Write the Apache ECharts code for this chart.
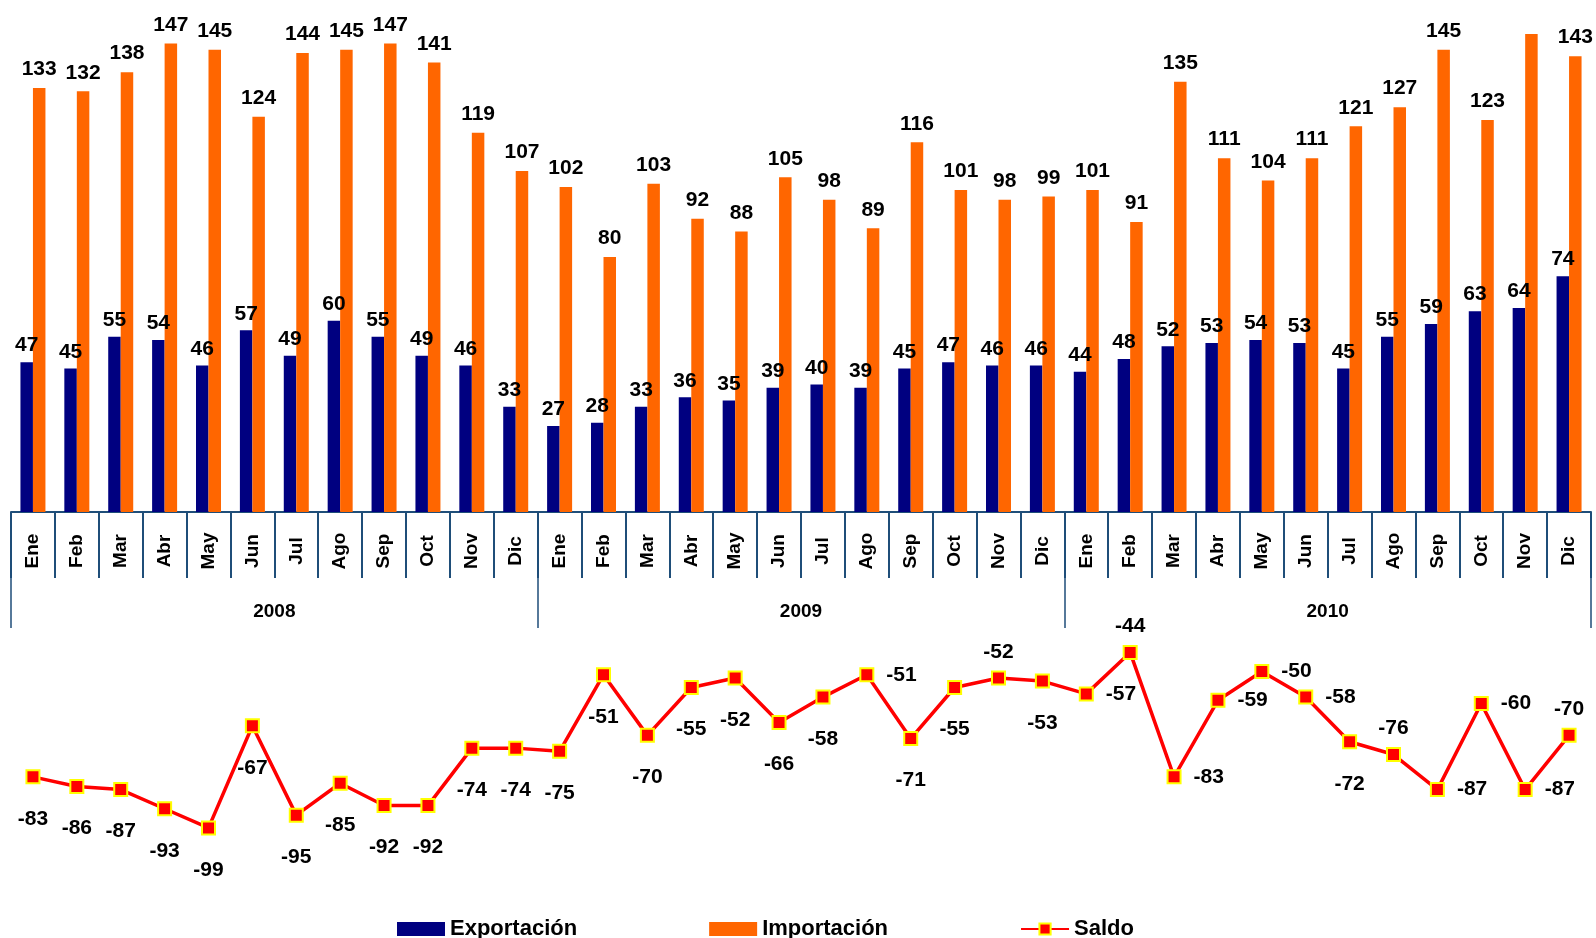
<!DOCTYPE html>
<html>
<head>
<meta charset="utf-8">
<title>Exportación / Importación / Saldo</title>
<script src="https://cdn.jsdelivr.net/npm/echarts@6/dist/echarts.min.js"></script>
<style>
  html, body { margin: 0; padding: 0; background: #fff; }
  #chart { width: 1596px; height: 938px; }
</style>
</head>
<body>
<div id="chart"></div>
<script>
// month labels, three years in a row
const months = ["Ene", "Feb", "Mar", "Abr", "May", "Jun", "Jul", "Ago", "Sep", "Oct", "Nov", "Dic",
  "Ene", "Feb", "Mar", "Abr", "May", "Jun", "Jul", "Ago", "Sep", "Oct", "Nov", "Dic",
  "Ene", "Feb", "Mar", "Abr", "May", "Jun", "Jul", "Ago", "Sep", "Oct", "Nov", "Dic"];
const years = ["2008", "2009", "2010"];

const exportacion = [47, 45, 55, 54, 46, 57, 49, 60, 55, 49, 46, 33,
  27, 28, 33, 36, 35, 39, 40, 39, 45, 47, 46, 46,
  44, 48, 52, 53, 54, 53, 45, 55, 59, 63, 64, 74];
const importacion = [133, 132, 138, 147, 145, 124, 144, 145, 147, 141, 119, 107,
  102, 80, 103, 92, 88, 105, 98, 89, 116, 101, 98, 99,
  101, 91, 135, 111, 104, 111, 121, 127, 145, 123, 150, 143];
const saldo = [-83, -86, -87, -93, -99, -67, -95, -85, -92, -92, -74, -74,
  -75, -51, -70, -55, -52, -66, -58, -51, -71, -55, -52, -53,
  -57, -44, -83, -59, -50, -58, -72, -76, -87, -60, -87, -70];

// where each saldo label sits relative to its marker (style only)
const saldoLabelPos = [
  "bottom", "bottom", "bottom", "bottom", "bottom", "bottom", "bottom", "bottom", "bottom", "bottom", "bottom", "bottom",
  "bottom", "bottom", "bottom", "bottom", "bottom", "bottom", "bottom", "right", "bottom", "bottom", "top", "bottom",
  "right", "top", "right", "right", "right", "right", "bottom", "top", "right", "right", "right", "top"];
const saldoLabelDist = { bottom: 24, top: 8, right: 12 };
// import bar whose value label is not shown in the original
const hiddenImpLabels = [34];

const axisBlue = "#1f4e79";
const font = "'Liberation Sans', Arial, sans-serif";
const labelText = { color: "#000", fontWeight: "bold", fontSize: 21, fontFamily: font };

const chart = echarts.init(document.getElementById("chart"));

// bars sit in the upper grid (0..160), the saldo line in the lower one (-110..0),
// both with the same pixels per unit so they read as one value scale
chart.setOption({
  animation: false,
  textStyle: { fontFamily: font },
  grid: [
    { left: 11, right: 5, top: 2, height: 510, containLabel: false, outerBoundsMode: "none" },
    { left: 11, right: 5, top: 512, height: 351, containLabel: false, outerBoundsMode: "none" },
  ],
  legend: {
    top: 913,
    left: 392,
    itemGap: 132,
    itemWidth: 48,
    itemHeight: 14,
    textStyle: { color: "#000", fontWeight: "bold", fontSize: 22, fontFamily: font },
    data: [
      { name: "Exportación", icon: "rect" },
      { name: "Importación", icon: "rect" },
      { name: "Saldo" },
    ],
  },
  xAxis: [
    {
      type: "category",
      gridIndex: 0,
      data: months,
      position: "bottom",
      axisLine: { show: true, lineStyle: { color: axisBlue, width: 2 } },
      axisTick: { show: true, interval: 0, length: 66, lineStyle: { color: axisBlue, width: 2 } },
      axisLabel: {
        interval: 0,
        rotate: 90,
        align: "center",
        verticalAlign: "middle",
        margin: 39,
        color: "#000",
        fontWeight: "bold",
        fontSize: 19,
        fontFamily: font,
      },
    },
    {
      type: "category",
      gridIndex: 0,
      data: years,
      position: "bottom",
      offset: 0,
      axisLine: { show: false },
      axisTick: { show: true, interval: 0, length: 116, lineStyle: { color: axisBlue, width: 1.5 } },
      axisLabel: {
        interval: 0,
        margin: 90,
        color: "#000",
        fontWeight: "bold",
        fontSize: 19,
        fontFamily: font,
      },
    },
    {
      type: "category",
      gridIndex: 1,
      data: months,
      show: false,
    },
  ],
  yAxis: [
    { type: "value", gridIndex: 0, min: 0, max: 160, show: false, splitLine: { show: false } },
    { type: "value", gridIndex: 1, min: -110, max: 0, show: false, splitLine: { show: false } },
  ],
  series: [
    {
      name: "Exportación",
      type: "bar",
      xAxisIndex: 0,
      yAxisIndex: 0,
      data: exportacion,
      barWidth: 12.5,
      barGap: "0%",
      itemStyle: { color: "#000080" },
      label: { show: true, position: "top", distance: 6, ...labelText },
    },
    {
      name: "Importación",
      type: "bar",
      xAxisIndex: 0,
      yAxisIndex: 0,
      data: importacion.map((v, i) => hiddenImpLabels.includes(i) ? { value: v, label: { show: false } } : v),
      barWidth: 12.5,
      itemStyle: { color: "#ff6600" },
      label: { show: true, position: "top", distance: 8, ...labelText },
    },
    {
      name: "Saldo",
      type: "line",
      xAxisIndex: 2,
      yAxisIndex: 1,
      data: saldo.map((v, i) => ({
        value: v,
        label: { position: saldoLabelPos[i], distance: saldoLabelDist[saldoLabelPos[i]] },
      })),
      symbol: "rect",
      symbolSize: 13,
      lineStyle: { color: "#ff0000", width: 3.5 },
      itemStyle: { color: "#ff0000", borderColor: "#ffff00", borderWidth: 2 },
      label: { show: true, ...labelText },
      z: 5,
    },
  ],
});

window.addEventListener("resize", () => chart.resize());
</script>
</body>
</html>
